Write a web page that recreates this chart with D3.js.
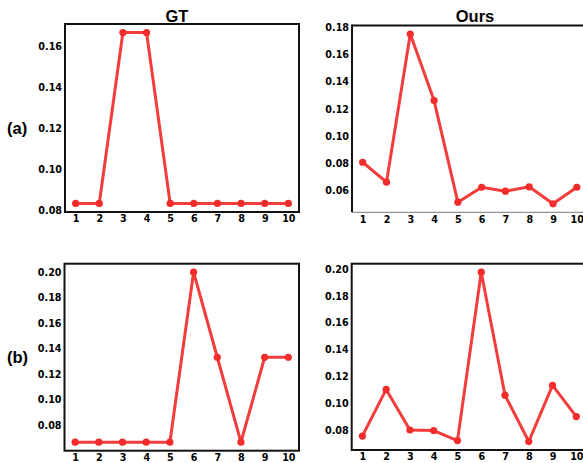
<!DOCTYPE html>
<html>
<head>
<meta charset="utf-8">
<script src="https://cdn.jsdelivr.net/npm/d3@7"></script>
<style>
  body { margin: 0; background: #fff; }
  svg { display: block; }
  .tick text { font-family: "DejaVu Sans", sans-serif; font-weight: bold; font-size: 9.6px; fill: #000; }
  .title { font-family: "Liberation Sans", Arial, sans-serif; font-weight: bold; font-size: 16.5px; }
  .rowlabel { font-family: "Liberation Sans", Arial, sans-serif; font-weight: bold; font-size: 16.5px; }
</style>
</head>
<body>
<div id="chart"></div>
<script>
var width = 583
var height = 463

// x categories
var steps = [1, 2, 3, 4, 5, 6, 7, 8, 9, 10]

// row (a)
var gtA = [0.0833, 0.0833, 0.1667, 0.1667, 0.0833, 0.0833, 0.0833, 0.0833, 0.0833, 0.0833]
var oursA = [0.0808, 0.0661, 0.1752, 0.1262, 0.0514, 0.0624, 0.0595, 0.0627, 0.0502, 0.0624]
// row (b)
var gtB = [0.0667, 0.0667, 0.0667, 0.0667, 0.0667, 0.2, 0.1333, 0.0667, 0.1333, 0.1333]
var oursB = [0.0757, 0.1104, 0.0802, 0.0798, 0.0723, 0.1977, 0.1061, 0.0716, 0.1134, 0.0902]

// tick labels
var ticksGtA = [0.08, 0.10, 0.12, 0.14, 0.16]
var ticksOursA = [0.06, 0.08, 0.10, 0.12, 0.14, 0.16, 0.18]
var ticksB = [0.08, 0.10, 0.12, 0.14, 0.16, 0.18, 0.20]

var colTitles = ['GT', 'Ours']
var rowLabels = ['(a)', '(b)']

var red = '#f22b2b'

var panels = [
  { values: gtA, ticks: ticksGtA, box: [65, 299, 24, 212], full: true },
  { values: oursA, ticks: ticksOursA, box: [352, 587.5, 25.5, 212.3], full: false },
  { values: gtB, ticks: ticksB, box: [64.5, 299, 263.7, 450.7], full: true },
  { values: oursB, ticks: ticksB, box: [351.7, 587, 263.7, 450], full: true }
]

var svg = d3.select('#chart')
  .append('svg')
  .attr('width', width)
  .attr('height', height)

panels.forEach(function(p) {
  var l = p.box[0], r = p.box[1], t = p.box[2], b = p.box[3]
  var ext = d3.extent(p.values)
  var pad = (ext[1] - ext[0]) * 0.05

  var x = d3.scaleLinear()
    .domain([0.55, 10.45])
    .range([l, r])
  var y = d3.scaleLinear()
    .domain([ext[0] - pad, ext[1] + pad])
    .range([b, t])

  var g = svg.append('g')

  // Y axis
  g.append('g')
    .attr('transform', `translate(${l},0)`)
    .call(d3.axisLeft(y).tickValues(p.ticks).tickSize(0).tickPadding(3).tickFormat(d3.format('.2f')))
    .call(a => a.select('.domain').remove())

  // X axis
  g.append('g')
    .attr('transform', `translate(0,${b})`)
    .call(d3.axisBottom(x).tickValues(steps).tickSize(0).tickPadding(3).tickFormat(d3.format('d')))
    .call(a => a.select('.domain').remove())
    .call(a => a.selectAll('.tick text').attr('dy', '0.78em'))

  // frame
  if (p.full) {
    g.append('rect')
      .attr('x', l).attr('y', t)
      .attr('width', r - l).attr('height', b - t)
      .attr('fill', 'none')
      .attr('stroke', '#111')
      .attr('stroke-width', 2)
  } else {
    g.append('line')
      .attr('x1', l).attr('x2', r).attr('y1', t).attr('y2', t)
      .attr('stroke', '#111').attr('stroke-width', 2)
    g.append('line')
      .attr('x1', l).attr('x2', l).attr('y1', t - 1).attr('y2', b)
      .attr('stroke', '#111').attr('stroke-width', 2)
    g.append('line')
      .attr('x1', l).attr('x2', r).attr('y1', b).attr('y2', b)
      .attr('stroke', '#777').attr('stroke-width', 1)
  }

  var line = d3.line()
    .x((d, i) => x(steps[i]))
    .y(d => y(d))

  g.append('path')
    .datum(p.values)
    .attr('d', line)
    .attr('fill', 'none')
    .attr('stroke', red)
    .attr('stroke-width', 3)
    .attr('stroke-linejoin', 'round')
    .attr('opacity', 0.92)

  g.selectAll('circle')
    .data(p.values)
    .join('circle')
    .attr('cx', (d, i) => x(steps[i]))
    .attr('cy', d => y(d))
    .attr('r', 3.6)
    .attr('fill', red)
})

// column titles
svg.selectAll('.title')
  .data(colTitles)
  .join('text')
  .attr('class', 'title')
  .attr('x', (d, i) => i === 0 ? 177 : 475)
  .attr('y', 22)
  .attr('text-anchor', 'middle')
  .text(d => d)

// row labels
svg.selectAll('.rowlabel')
  .data(rowLabels)
  .join('text')
  .attr('class', 'rowlabel')
  .attr('x', 7)
  .attr('y', (d, i) => i === 0 ? 134 : 363)
  .text(d => d)
</script>
</body>
</html>
